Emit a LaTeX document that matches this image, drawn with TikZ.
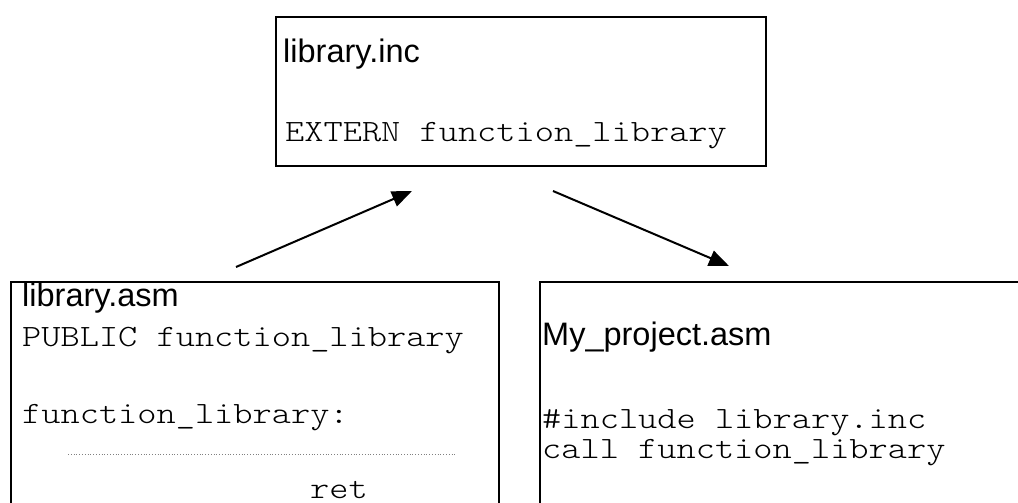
\documentclass[tikz,border=0pt]{standalone}
\usepackage{fontspec}
\setmainfont{Liberation Sans}
\newfontfamily\codefont[FakeStretch=1.18]{Latin Modern Mono Light}
\usetikzlibrary{arrows.meta}
\begin{document}
\begin{tikzpicture}[x=1pt,y=-1pt,
  filebox/.style={draw=black,line width=1.5pt},
  title/.style={anchor=base west,inner sep=0pt,font=\fontsize{32.5}{36}\selectfont},
  code/.style={anchor=base west,inner sep=0pt,font=\codefont\fontsize{31}{36}\selectfont},
  link/.style={line width=2pt,-{Triangle[length=20pt,width=16pt]}}]
\useasboundingbox (0,0) rectangle (1018,503);
\clip (0,0) rectangle (1018,503);
% include file
\draw[filebox] (276,17) rectangle (766,166);
\node[title] (inctitle) at (283,63) {library.inc};
\node[code] (extern) at (285,141) {EXTERN function\_library};
% library source
\draw[filebox] (11,282) rectangle (499,540);
\node[title] (asmtitle) at (22,306) {library.asm};
\node[code] (public) at (22,346) {PUBLIC function\_library};
\node[code] (label) at (22,423) {function\_library:};
\draw[gray,line width=0.8pt,dotted] (68,454) -- (457,454);
\node[code] (ret) at (310,498) {ret};
% project source
\draw[filebox] (540,282) rectangle (1040,540);
\node[title] (projtitle) at (542,345) {My\_project.asm};
\node[code] (include) at (542,428) {\#include library.inc};
\node[code] (call) at (542,458) {call function\_library};
% connectors
\coordinate (a1s) at (236,267);
\coordinate (a1e) at (412,191);
\coordinate (a2s) at (553,191);
\coordinate (a2e) at (729,266);
\draw[link] (a1s) -- (a1e);
\draw[link] (a2s) -- (a2e);
\end{tikzpicture}
\end{document}
